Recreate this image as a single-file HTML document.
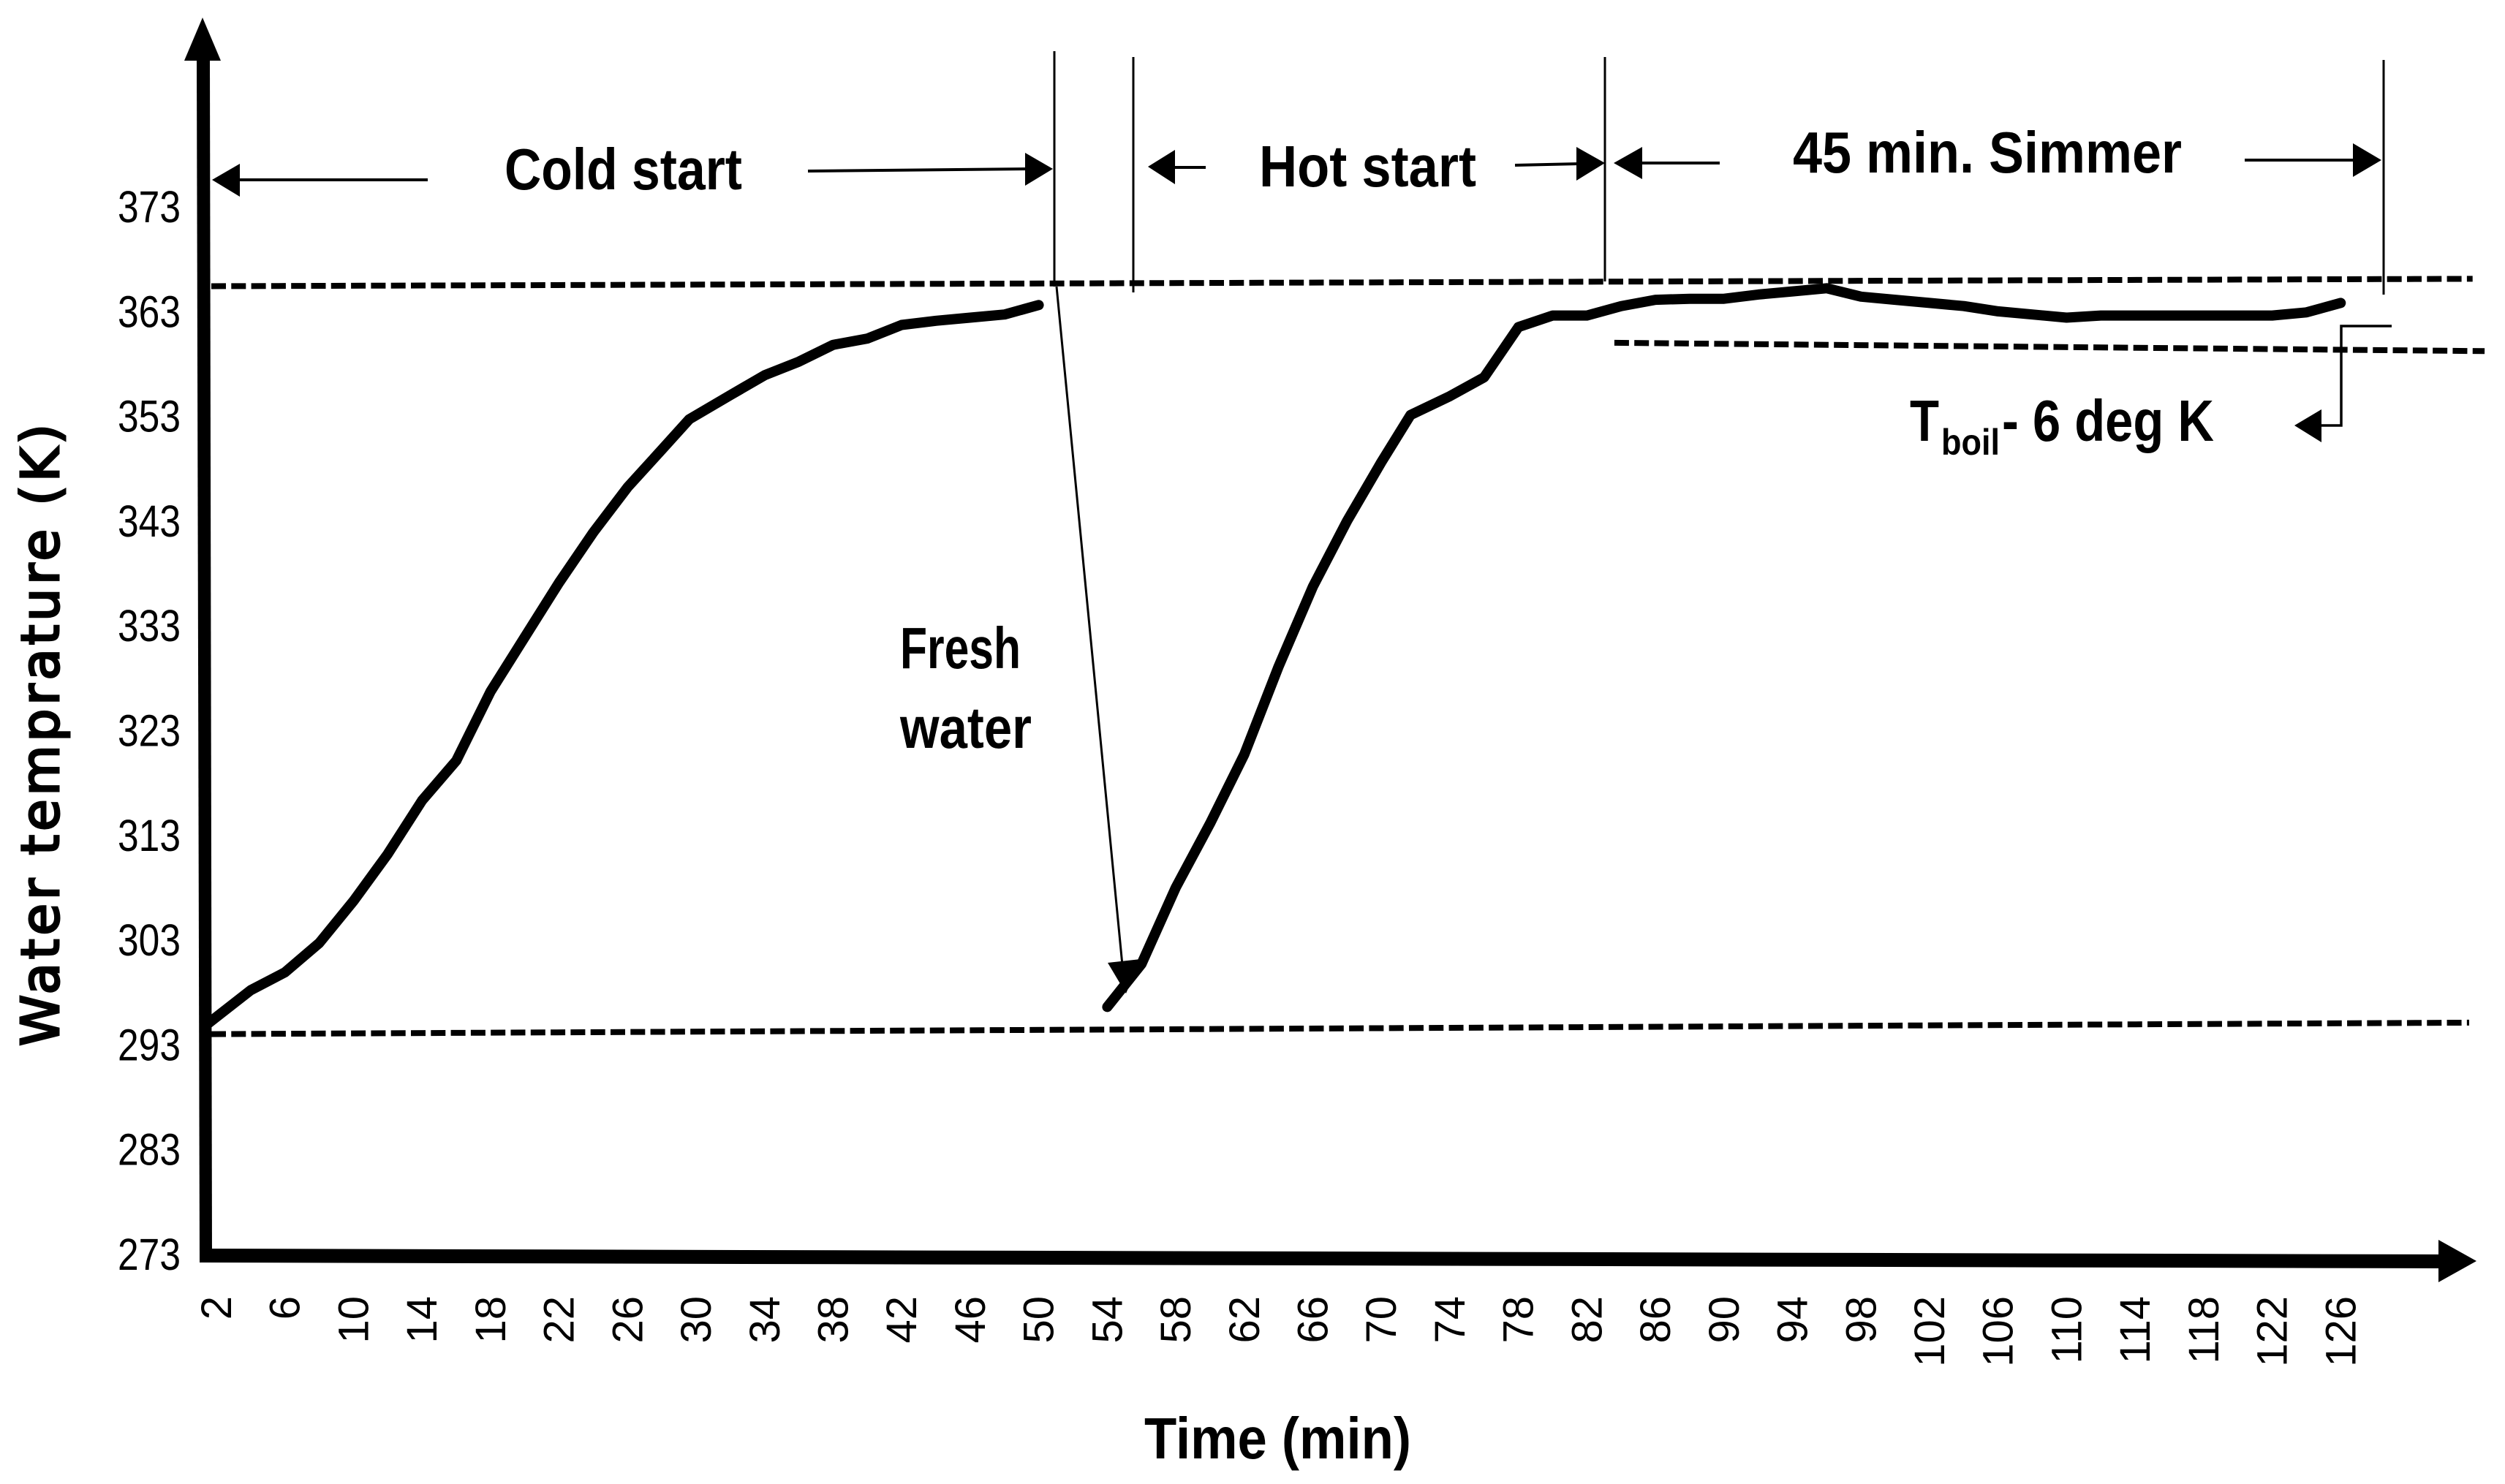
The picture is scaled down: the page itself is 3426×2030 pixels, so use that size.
<!DOCTYPE html>
<html lang="en">
<head>
<meta charset="utf-8">
<title>Water temperature over time</title>
<style>
html,body{margin:0;padding:0;background:#fff;}
svg{display:block;}
text{fill:#000;}
.note{font-family:"Liberation Sans",sans-serif;font-weight:700;font-size:80px;}
</style>
</head>
<body>
<svg id="chart" xmlns="http://www.w3.org/2000/svg" width="3426" height="2030" viewBox="0 0 3426 2030">
  <rect x="0" y="0" width="3426" height="2030" fill="#fff"/>

  <g id="marks"></g>

  <polygon points="269,80 287,80 290,1727 273,1727" fill="#000"/>
  <polygon points="277,24 302,83 252,83" fill="#000"/>
  <polygon points="273,1708 3340,1716 3340,1735 273,1727" fill="#000"/>
  <polygon points="3335,1696 3387,1725 3335,1754" fill="#000"/>

  <g id="y-ticks"></g>
  <g id="x-ticks"></g>

  <text transform="translate(80,1431) rotate(-90)" font-family="'DejaVu Sans',sans-serif" font-size="71" stroke="#000" stroke-width="3" textLength="851" lengthAdjust="spacing">Water temprature (K)</text>
  <text class="note" x="1565" y="1995" textLength="365" lengthAdjust="spacingAndGlyphs">Time (min)</text>

  <g stroke="#000" stroke-width="3" fill="none">
    <line x1="1442" y1="70" x2="1442" y2="392"/>
    <line x1="1550" y1="78" x2="1550" y2="400"/>
    <line x1="2195" y1="78" x2="2195" y2="385"/>
    <line x1="3260" y1="82" x2="3260" y2="403"/>
  </g>

  <g>
    <line x1="320" y1="246" x2="585" y2="246" stroke="#000" stroke-width="4"/>
    <polygon points="290,246 328,224 328,269" fill="#000"/>
    <text class="note" x="690" y="259" textLength="325" lengthAdjust="spacingAndGlyphs">Cold start</text>
    <line x1="1105" y1="234" x2="1410" y2="231" stroke="#000" stroke-width="4"/>
    <polygon points="1440,231 1402,209 1402,254" fill="#000"/>
  </g>

  <g>
    <line x1="1600" y1="229" x2="1649" y2="229" stroke="#000" stroke-width="4"/>
    <polygon points="1570,228 1607,205 1607,252" fill="#000"/>
    <text class="note" x="1722" y="255" textLength="297" lengthAdjust="spacingAndGlyphs">Hot start</text>
    <line x1="2072" y1="226" x2="2160" y2="224" stroke="#000" stroke-width="4"/>
    <polygon points="2195,223 2156,201 2156,247" fill="#000"/>
  </g>

  <g>
    <line x1="2240" y1="223" x2="2352" y2="223" stroke="#000" stroke-width="4"/>
    <polygon points="2207,223 2246,201 2246,245" fill="#000"/>
    <text class="note" x="2452" y="236" textLength="532" lengthAdjust="spacingAndGlyphs">45 min. Simmer</text>
    <line x1="3070" y1="219" x2="3225" y2="219" stroke="#000" stroke-width="4"/>
    <polygon points="3257,219 3218,196 3218,242" fill="#000"/>
  </g>

  <g>
    <polyline points="3271,446 3202,446 3202,582 3165,582" fill="none" stroke="#000" stroke-width="3.5"/>
    <polygon points="3138,582 3175,560 3175,605" fill="#000"/>
    <text class="note" x="2612" y="603" textLength="40" lengthAdjust="spacingAndGlyphs">T</text>
    <text class="note" x="2655" y="622" style="font-size:50px" textLength="80" lengthAdjust="spacingAndGlyphs">boil</text>
    <text class="note" x="2738" y="603" textLength="290" lengthAdjust="spacingAndGlyphs">- 6 deg K</text>
  </g>

  <g>
    <text class="note" x="1231" y="914" textLength="165" lengthAdjust="spacingAndGlyphs">Fresh</text>
    <text class="note" x="1231" y="1023" textLength="180" lengthAdjust="spacingAndGlyphs">water</text>
    <line x1="1445" y1="392" x2="1535" y2="1320" stroke="#000" stroke-width="3"/>
    <polygon points="1540,1359 1515,1317 1560,1312" fill="#000"/>
  </g>

<script>
// Data
var yTickValues = [273, 283, 293, 303, 313, 323, 333, 343, 353, 363, 373];
var xTickValues = [2, 6, 10, 14, 18, 22, 26, 30, 34, 38, 42, 46, 50, 54, 58, 62, 66, 70, 74, 78, 82, 86, 90, 94, 98, 102, 106, 110, 114, 118, 122, 126];

var coldTimes = [1.5, 4, 6, 8, 10, 12, 14, 16, 18, 20, 22, 24, 26, 28, 29.6, 32, 34, 36, 38, 40, 42, 44, 46, 48, 50];
var coldTemps = [295.1, 298.3, 300.0, 302.8, 306.8, 311.3, 316.4, 320.2, 326.8, 332.0, 337.2, 342.0, 346.3, 349.9, 352.8, 355.1, 357.0, 358.3, 359.9, 360.5, 361.8, 362.2, 362.5, 362.8, 363.7];

var hotTimes = [54, 56, 58, 60, 62, 64, 66, 68, 70, 71.7, 74, 76, 78, 80, 82, 84, 86, 88, 90, 92, 94, 96, 98, 100, 102, 104, 106, 108, 110, 112, 114, 116, 118, 120, 122, 124, 126];
var hotTemps = [296.7, 300.8, 308.1, 314.2, 320.8, 329.2, 336.8, 343.1, 348.7, 353.2, 355.0, 356.8, 361.6, 362.7, 362.7, 363.6, 364.2, 364.3, 364.3, 364.7, 365.0, 365.3, 364.5, 364.2, 363.9, 363.6, 363.1, 362.8, 362.5, 362.7, 362.7, 362.7, 362.7, 362.7, 362.7, 363.0, 363.9];

var boilLineTimes = [1.7, 133.7];
var boilLineTemps = [365.5, 366.2];
var ambientLineTimes = [1.7, 133.5];
var ambientLineTemps = [294.1, 295.2];
var simmerLineTimes = [83.6, 134.4];
var simmerLineTemps = [360.1, 359.3];

// Axis functions
function xScale(t) { return 296 + (t - 2) * 23.43; }
function yScale(k) { return 1717 - (k - 273) * 14.33; }

var NS = 'http://www.w3.org/2000/svg';
var marks = document.getElementById('marks');
var yTicks = document.getElementById('y-ticks');
var xTicks = document.getElementById('x-ticks');

function toPoints(ts, vs) {
  return ts.map(function (t, i) { return xScale(t).toFixed(1) + ',' + yScale(vs[i]).toFixed(1); }).join(' ');
}

function addPolyline(ts, vs, width, dash) {
  var el = document.createElementNS(NS, 'polyline');
  el.setAttribute('points', toPoints(ts, vs));
  el.setAttribute('fill', 'none');
  el.setAttribute('stroke', '#000');
  el.setAttribute('stroke-width', width);
  if (dash) {
    el.setAttribute('stroke-dasharray', dash);
  } else {
    el.setAttribute('stroke-linejoin', 'round');
    el.setAttribute('stroke-linecap', 'round');
  }
  marks.appendChild(el);
  return el;
}

var boilLine = addPolyline(boilLineTimes, boilLineTemps, 8, '20 7.3');



var ambientLine = addPolyline(ambientLineTimes, ambientLineTemps, 8, '20 7.3');



var simmerLine = addPolyline(simmerLineTimes, simmerLineTemps, 8, '20 7.3');



var coldCurve = addPolyline(coldTimes, coldTemps, 14);



var hotCurve = addPolyline(hotTimes, hotTemps, 14);



yTickValues.forEach(function (v) {
  var t = document.createElementNS(NS, 'text');
  
  
  t.setAttribute('x', 161);
  t.setAttribute('y', yScale(v) + 20);
  t.setAttribute('font-family', '"Liberation Sans", sans-serif');
  t.setAttribute('font-size', 61);
  t.setAttribute('textLength', 86);
  t.setAttribute('lengthAdjust', 'spacingAndGlyphs');
  t.textContent = String(v);
  yTicks.appendChild(t);
});

xTickValues.forEach(function (v) {
  var t = document.createElementNS(NS, 'text');
  
  
  t.setAttribute('transform', 'translate(' + (xScale(v) + 20).toFixed(1) + ',1773) rotate(-90)');
  t.setAttribute('text-anchor', 'end');
  t.setAttribute('font-family', '"Liberation Sans", sans-serif');
  t.setAttribute('font-size', 58);
  t.textContent = String(v);
  xTicks.appendChild(t);
});
</script>
</svg>
</body>
</html>
